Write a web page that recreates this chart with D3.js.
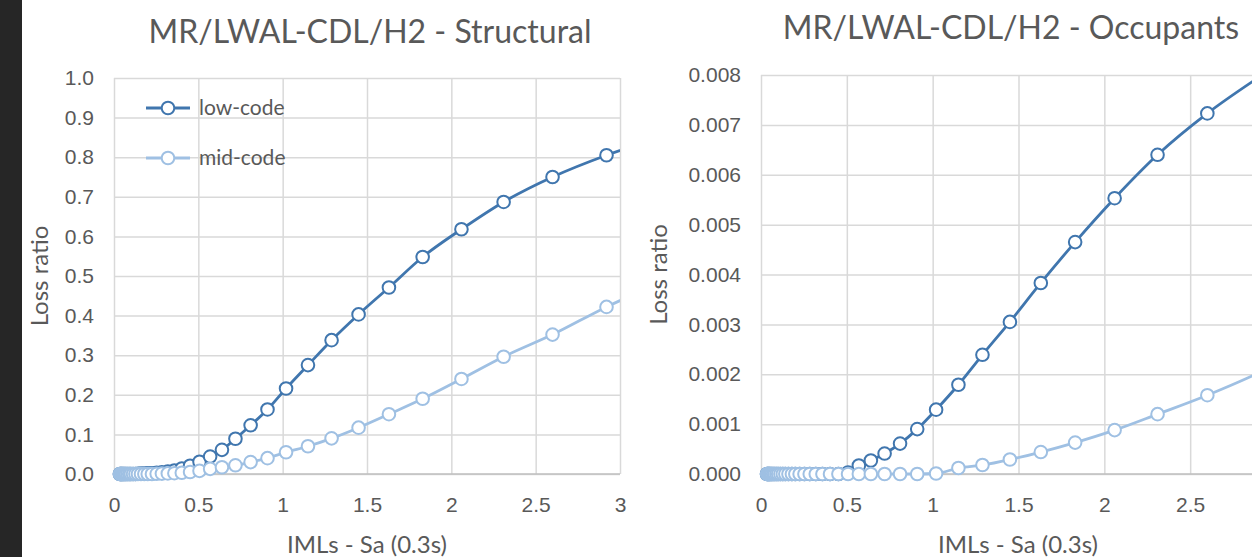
<!DOCTYPE html>
<html>
<head>
<meta charset="utf-8">
<script src="https://cdn.jsdelivr.net/npm/d3@7"></script>
<style>
  body { margin: 0; background: #ffffff; }
  svg { display: block; font-family: "Lato", "Open Sans", sans-serif; }
</style>
</head>
<body>
<svg id="chart" width="1252" height="557"></svg>
<script>
// IML values (Sa 0.3s) shared by every curve
const iml = [0.035, 0.04, 0.045, 0.05, 0.056, 0.063, 0.071, 0.08, 0.09, 0.1,
  0.113, 0.127, 0.142, 0.16, 0.18, 0.2, 0.225, 0.253, 0.284, 0.319,
  0.358, 0.402, 0.451, 0.507, 0.57, 0.64, 0.72, 0.81, 0.91, 1.02,
  1.15, 1.29, 1.45, 1.63, 1.83, 2.06, 2.31, 2.6, 2.92, 3.28];

// structural loss ratio
const structuralLow = [0, 0, 0, 0, 0, 0, 0, 0, 0, 0,
  0, 0, 0.0005, 0.001, 0.001, 0.0015, 0.002, 0.003, 0.004, 0.006,
  0.009, 0.014, 0.021, 0.031, 0.044, 0.061, 0.089, 0.123, 0.163, 0.216,
  0.275, 0.338, 0.403, 0.471, 0.548, 0.618, 0.687, 0.75, 0.805, 0.855];
const structuralMid = [0, 0, 0, 0, 0, 0, 0, 0, 0, 0,
  0, 0, 0, 0, 0, 0, 0, 0.0005, 0.001, 0.0015,
  0.002, 0.003, 0.005, 0.008, 0.013, 0.017, 0.022, 0.03, 0.04, 0.055,
  0.07, 0.09, 0.117, 0.151, 0.19, 0.24, 0.296, 0.352, 0.422, 0.49];

// occupants loss ratio
const occupantsLow = [0, 0, 0, 0, 0, 0, 0, 0, 0, 0,
  0, 0, 0, 0, 0, 0, 0, 0, 0, 0,
  0, 0, 0, 0.00003, 0.00017, 0.00027, 0.00041, 0.00061, 0.0009, 0.00129,
  0.00179, 0.00239, 0.00305, 0.00383, 0.00465, 0.00553, 0.0064, 0.00723, 0.008, 0.0088];
const occupantsMid = [0, 0, 0, 0, 0, 0, 0, 0, 0, 0,
  0, 0, 0, 0, 0, 0, 0, 0, 0, 0,
  0, 0, 0, 0, 0, 0, 0, 0, 0, 0.00001,
  0.00012, 0.00018, 0.00029, 0.00044, 0.00063, 0.00088, 0.0012, 0.00158, 0.00206, 0.0027];

const seriesNames = ["low-code", "mid-code"];
const xTicks = [0, 0.5, 1, 1.5, 2, 2.5, 3];
const xTicksCropped = [0, 0.5, 1, 1.5, 2, 2.5];   // the "3" of the right panel falls off the screenshot
const yTicksStructural = [0, 0.1, 0.2, 0.3, 0.4, 0.5, 0.6, 0.7, 0.8, 0.9, 1.0];
const yTicksOccupants = [0, 0.001, 0.002, 0.003, 0.004, 0.005, 0.006, 0.007, 0.008];

const colors = ["#4076ae", "#9fc0e3"];
const textColor = "#595959";

const svg = d3.select("#chart");
svg.append("rect").attr("width", 1252).attr("height", 557).attr("fill", "#ffffff");
// dark strip on the left edge of the screenshot
svg.append("rect").attr("width", 22).attr("height", 557).attr("fill", "#262626");

function drawPanel(cfg) {
  const w = cfg.right - cfg.left,
      h = cfg.bottom - cfg.top;

  const x = d3.scaleLinear().domain([0, 3]).range([0, w]);
  const y = d3.scaleLinear().domain([0, cfg.yTicks[cfg.yTicks.length - 1]]).range([h, 0]);

  const g = svg.append("g")
      .attr("transform", "translate(" + cfg.left + "," + cfg.top + ")");

  // gridlines + tick labels
  const yAxis = g.append("g")
      .call(d3.axisLeft(y).tickValues(cfg.yTicks).tickFormat(d3.format(cfg.fmt))
        .tickSize(-w).tickPadding(20));
  const xAxis = g.append("g")
      .attr("transform", `translate(0, ${h})`)
      .call(d3.axisBottom(x).tickValues(cfg.xTicks).tickFormat(d => String(d))
        .tickSize(-h).tickPadding(23));
  [yAxis, xAxis].forEach(a => {
    a.select(".domain").remove();
    a.selectAll("line").attr("stroke", "#d9d9d9").attr("stroke-width", 1.5);
    a.selectAll("text").attr("fill", textColor).style("font-size", "21px");
  });
  // bottom axis line a bit darker
  g.append("line")
      .attr("x1", 0).attr("x2", w).attr("y1", h).attr("y2", h)
      .attr("stroke", "#bfbfbf").attr("stroke-width", 1.5);

  const clipId = "clip" + cfg.id;
  g.append("clipPath").attr("id", clipId)
    .append("rect").attr("x", -12).attr("y", -12).attr("width", w + 12).attr("height", h + 24);

  const line = d3.line()
      .x(d => x(d[0]))
      .y(d => y(d[1]))
      .curve(d3.curveMonotoneX);

  const plot = g.append("g").attr("clip-path", `url(#${clipId})`);
  cfg.series.forEach((vals, i) => {
    const pts = iml.map((v, j) => [v, vals[j]]);
    const s = plot.append("g");
    s.append("path")
        .datum(pts)
        .attr("fill", "none")
        .attr("stroke", colors[i])
        .attr("stroke-width", 2.8)
        .attr("d", line);
    s.selectAll("circle")
        .data(pts.filter(d => d[0] <= 3))
      .enter().append("circle")
        .attr("cx", d => x(d[0]))
        .attr("cy", d => y(d[1]))
        .attr("r", 6.3)
        .attr("fill", "#ffffff")
        .attr("stroke", colors[i])
        .attr("stroke-width", 2);
  });

  // titles
  svg.append("text")
      .attr("x", cfg.titleX).attr("y", cfg.titleY)
      .attr("text-anchor", "middle")
      .attr("fill", textColor)
      .style("font-size", "32px")
      .text(cfg.title);
  svg.append("text")
      .attr("transform", `translate(${cfg.yTitleX}, ${cfg.top + h / 2}) rotate(-90)`)
      .attr("text-anchor", "middle")
      .attr("dy", "0.35em")
      .attr("fill", textColor)
      .style("font-size", "24px")
      .text("Loss ratio");
  svg.append("text")
      .attr("x", cfg.xTitleX).attr("y", 545)
      .attr("text-anchor", "middle")
      .attr("dy", "0.35em")
      .attr("fill", textColor)
      .style("font-size", "24px")
      .text("IMLs - Sa (0.3s)");

  if (cfg.legend) {
    const lg = g.selectAll(".legend")
        .data(seriesNames)
      .enter().append("g")
        .attr("class", "legend")
        .attr("transform", (d, i) => `translate(32, ${30 + i * 50})`);
    lg.append("line")
        .attr("x1", 0).attr("x2", 44)
        .attr("stroke", (d, i) => colors[i]).attr("stroke-width", 2.8);
    lg.append("circle")
        .attr("cx", 22).attr("r", 6.3)
        .attr("fill", "#ffffff")
        .attr("stroke", (d, i) => colors[i]).attr("stroke-width", 2);
    lg.append("text")
        .attr("x", 53).attr("dy", "0.35em")
        .attr("fill", textColor)
        .style("font-size", "21px")
        .text(d => d);
  }
}

drawPanel({
  id: "s", left: 114, right: 620, top: 78, bottom: 474,
  yTicks: yTicksStructural, fmt: ".1f", xTicks: xTicks,
  series: [structuralLow, structuralMid],
  title: "MR/LWAL-CDL/H2 - Structural", titleX: 370, titleY: 43,
  yTitleX: 40, xTitleX: 367, legend: true
});
drawPanel({
  id: "o", left: 761, right: 1276, top: 75, bottom: 474,
  yTicks: yTicksOccupants, fmt: ".3f", xTicks: xTicksCropped,
  series: [occupantsLow, occupantsMid],
  title: "MR/LWAL-CDL/H2 - Occupants", titleX: 1011, titleY: 39,
  yTitleX: 659, xTitleX: 1018, legend: false
});
</script>
</body>
</html>
